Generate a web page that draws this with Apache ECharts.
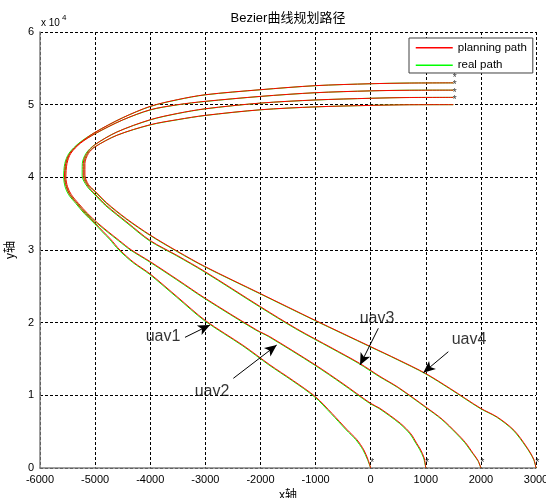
<!DOCTYPE html>
<html><head><meta charset="utf-8">
<script src="https://cdn.jsdelivr.net/npm/echarts@6/dist/echarts.min.js"></script>
<style>html,body{margin:0;padding:0;background:#fff}#c{width:546px;height:498px}</style>
</head><body><div id="c"></div>
<script>
// ---- data ----
const chartTitle = 'Bezier曲线规划路径';
const xName = 'x轴';
const yName = 'y轴';
const legendNames = ['planning path', 'real path'];

const uav1Plan = [[0,0],[-50,1200],[-125,2500],[-250,3900],[-425,5250],[-700,7500],[-1000,9800],[-1400,12000],[-1830,14200],[-2300,16800],[-3000,20300],[-3500,23500],[-4000,26700],[-4300,28300],[-4550,30000],[-4720,31500],[-4850,32500],[-5000,33700],[-5180,35050],[-5330,36400],[-5460,37600],[-5525,38700],[-5555,40000],[-5535,41900],[-5460,43300],[-5280,44700],[-5000,46200],[-4500,48200],[-4000,49770],[-3500,50700],[-3000,51370],[-2000,52060],[-1000,52620],[0,52880],[700,52970],[1500,53000]];
const uav1Real = [[0,0],[-60,1200],[-140,2500],[-270,3900],[-445,5250],[-720,7500],[-1020,9800],[-1420,12000],[-1850,14200],[-2320,16800],[-3020,20300],[-3520,23500],[-4020,26700],[-4320,28300],[-4570,30000],[-4740,31500],[-4870,32500],[-5020,33700],[-5200,35050],[-5350,36400],[-5480,37600],[-5545,38700],[-5570,40000],[-5550,41900],[-5475,43300],[-5295,44700],[-5010,46150],[-4510,48160],[-4000,49740],[-3500,50680],[-3000,51350],[-2000,52050],[-1000,52610],[0,52880],[700,52980],[1500,53000]];

const uav2Plan = [[1000,0],[970,1400],[900,2600],[835,3400],[730,4700],[540,6150],[170,8200],[0,8900],[-500,11600],[-1000,14170],[-1830,18070],[-2070,19000],[-3000,23350],[-3500,25900],[-4000,28400],[-4340,30000],[-4560,31300],[-4760,32500],[-4950,33700],[-5140,35050],[-5300,36400],[-5430,37600],[-5500,38700],[-5530,40000],[-5510,41900],[-5440,43300],[-5265,44700],[-4990,46050],[-4500,47900],[-4000,49300],[-3500,50000],[-3000,50460],[-2000,51140],[-1000,51650],[0,51900],[700,51980],[1500,52000]];
const uav2Real = [[1000,0],[960,1400],[885,2600],[820,3400],[712,4700],[520,6150],[150,8200],[-20,8900],[-520,11600],[-1020,14170],[-1850,18070],[-2090,19000],[-3020,23350],[-3520,25900],[-4020,28400],[-4360,30000],[-4580,31300],[-4780,32500],[-4970,33700],[-5160,35050],[-5320,36400],[-5450,37600],[-5515,38700],[-5545,40000],[-5525,41900],[-5455,43300],[-5280,44700],[-5000,46000],[-4510,47860],[-4000,49270],[-3500,49980],[-3000,50440],[-2000,51130],[-1000,51640],[0,51900],[700,51990],[1500,52000]];

const uav3Plan = [[2000,0],[1950,1000],[1860,2000],[1720,3500],[1560,4800],[1300,6700],[1000,8400],[500,11100],[170,12600],[-200,14400],[-700,16500],[-1340,19150],[-2000,22200],[-3000,27000],[-3500,29200],[-4000,31300],[-4400,33700],[-4790,36100],[-5000,37700],[-5130,38800],[-5215,40200],[-5215,41900],[-5150,43300],[-5000,44500],[-4600,46250],[-4000,47930],[-3500,48800],[-3000,49440],[-2000,50220],[-1000,50650],[0,50880],[700,50980],[1500,51000]];
const uav3Real = [[2000,0],[1945,1000],[1850,2000],[1705,3500],[1545,4800],[1285,6700],[985,8400],[485,11100],[150,12600],[-220,14400],[-720,16500],[-1360,19150],[-2020,22200],[-3020,27000],[-3520,29200],[-4020,31300],[-4420,33700],[-4810,36100],[-5020,37700],[-5150,38800],[-5235,40200],[-5232,41900],[-5165,43300],[-5012,44460],[-4610,46220],[-4000,47900],[-3500,48780],[-3000,49420],[-2000,50210],[-1000,50640],[0,50880],[700,50990],[1500,51000]];

const uav4Plan = [[3000,0],[2960,1200],[2830,2900],[2600,5200],[2300,7000],[2000,8200],[1450,10900],[1000,13000],[500,14900],[0,16700],[-1000,20300],[-2000,24000],[-3000,27700],[-3500,29800],[-4000,32060],[-4430,34300],[-4790,36500],[-5000,38100],[-5120,39000],[-5185,40300],[-5185,41900],[-5120,43300],[-5000,44200],[-4600,45800],[-4000,47240],[-3500,47950],[-3000,48530],[-2000,49300],[-1000,49700],[0,49900],[700,49985],[1500,50000]];
const uav4Real = [[3000,0],[2955,1200],[2820,2900],[2585,5200],[2285,7000],[1985,8200],[1435,10900],[985,13000],[485,14900],[-15,16700],[-1015,20300],[-2015,24000],[-3015,27700],[-3515,29800],[-4015,32060],[-4445,34300],[-4805,36500],[-5015,38100],[-5135,39000],[-5200,40300],[-5200,41900],[-5135,43300],[-5012,44170],[-4610,45770],[-4000,47210],[-3500,47930],[-3000,48510],[-2000,49290],[-1000,49695],[0,49900],[700,49995],[1500,50000]];

const starPoints = [[0,0],[1000,0],[2000,0],[3000,0],[1500,50000],[1500,51000],[1500,52000],[1500,53000]];

const annotTexts = ['uav1','uav2','uav3','uav4'];
const annotTextPos = [[-3768,18030],[-2879,10460],[115,20500],[1785,17610]];
const annotArrowFrom = [[-3369,17980],[-2492,12340],[139,19220],[1409,16000]];
const annotArrowTo = [[-2915,19680],[-1705,16920],[-193,14170],[955,13110]];

const xMin = -6000, xMax = 3000, xStep = 1000;
const yMin = 0, yMax = 60000, yStep = 10000, yScale = 10000;

// ---- chart ----
const FONT = '"Liberation Sans", Arial, "Noto Sans CJK SC", sans-serif';
const chart = echarts.init(document.getElementById('c'), null, {renderer: 'canvas'});

const series = [];
[uav1Real, uav2Real, uav3Real, uav4Real].forEach(d => series.push({
  type: 'line', name: legendNames[1], data: d, symbol: 'none', showSymbol: false,
  smooth: 0.3, silent: true, z: 2,
  lineStyle: {color: '#00ff00', width: 1}, itemStyle: {color: '#00ff00'}
}));
[uav1Plan, uav2Plan, uav3Plan, uav4Plan].forEach(d => series.push({
  type: 'line', name: legendNames[0], data: d, symbol: 'none', showSymbol: false,
  smooth: 0.3, silent: true, z: 3,
  lineStyle: {color: '#ff0000', width: 1}, itemStyle: {color: '#ff0000'}
}));
series.push({
  type: 'scatter', name: 'stars', data: starPoints, symbolSize: 1, silent: true, z: 4,
  itemStyle: {color: 'rgba(0,0,0,0)'},
  label: {show: true, formatter: '*', position: [0, -9], color: '#000', fontSize: 10, fontFamily: FONT}
});
series.push({
  type: 'scatter', name: 'annot', data: annotTextPos, symbolSize: 1, silent: true, z: 5,
  itemStyle: {color: 'rgba(0,0,0,0)'},
  label: {show: true, position: 'inside', formatter: p => annotTexts[p.dataIndex],
          color: '#000', fontSize: 16, fontFamily: FONT},
  markLine: {
    silent: true, animation: false, symbol: ['none', 'arrow'], symbolSize: [8, 12],
    lineStyle: {color: '#000', width: 1, type: 'solid'}, label: {show: false},
    data: annotArrowFrom.map((f, i) => [{coord: f}, {coord: annotArrowTo[i]}])
  }
});

chart.setOption({
  animation: false,
  backgroundColor: '#fff',
  grid: {left: 40, right: 10, top: 32, bottom: 30, containLabel: false, outerBoundsMode: 'none'},
  legend: {
    show: true, data: legendNames, orient: 'vertical', left: 409, top: 38,
    padding: [4, 6, 2, 6], itemGap: 6, itemWidth: 37, itemHeight: 14,
    borderColor: '#404040', borderWidth: 1, backgroundColor: '#fff', selectedMode: false,
    itemStyle: {opacity: 0},
    lineStyle: {width: 1.5},
    textStyle: {color: '#000', fontSize: 11.5, fontFamily: FONT}
  },
  xAxis: {
    type: 'value', min: xMin, max: xMax, interval: xStep,
    axisLine: {show: true, onZero: false, lineStyle: {color: '#808080', width: 1.5}},
    axisTick: {show: false},
    axisLabel: {color: '#000', fontSize: 11, margin: 6, fontFamily: FONT, formatter: v => String(v), showMinLabel: true, showMaxLabel: true},
    splitLine: {show: true, lineStyle: {color: '#000', type: [3, 2], width: 1}},
    name: xName, nameLocation: 'middle', nameGap: 16,
    nameTextStyle: {color: '#000', fontSize: 12, fontFamily: FONT}
  },
  yAxis: {
    type: 'value', min: yMin, max: yMax, interval: yStep,
    axisLine: {show: true, onZero: false, lineStyle: {color: '#808080', width: 1.5}},
    axisTick: {show: false},
    axisLabel: {color: '#000', fontSize: 11, margin: 6, fontFamily: FONT, formatter: v => String(v / yScale), showMinLabel: true, showMaxLabel: true},
    splitLine: {show: true, lineStyle: {color: '#000', type: [3, 2], width: 1}},
    name: yName, nameLocation: 'middle', nameGap: 21,
    nameTextStyle: {color: '#000', fontSize: 12, fontFamily: FONT}
  },
  graphic: [
    {type: 'text', x: 288, y: 18, silent: true,
     style: {text: chartTitle, fill: '#000', font: '13px ' + FONT, align: 'center', verticalAlign: 'middle'}},
    {type: 'text', x: 41, y: 23, silent: true,
     style: {text: 'x 10', fill: '#000', font: '10px ' + FONT, align: 'left', verticalAlign: 'middle'}},
    {type: 'text', x: 62, y: 18, silent: true,
     style: {text: '4', fill: '#000', font: '8px ' + FONT, align: 'left', verticalAlign: 'middle'}}
  ],
  series: series
});
</script></body></html>
